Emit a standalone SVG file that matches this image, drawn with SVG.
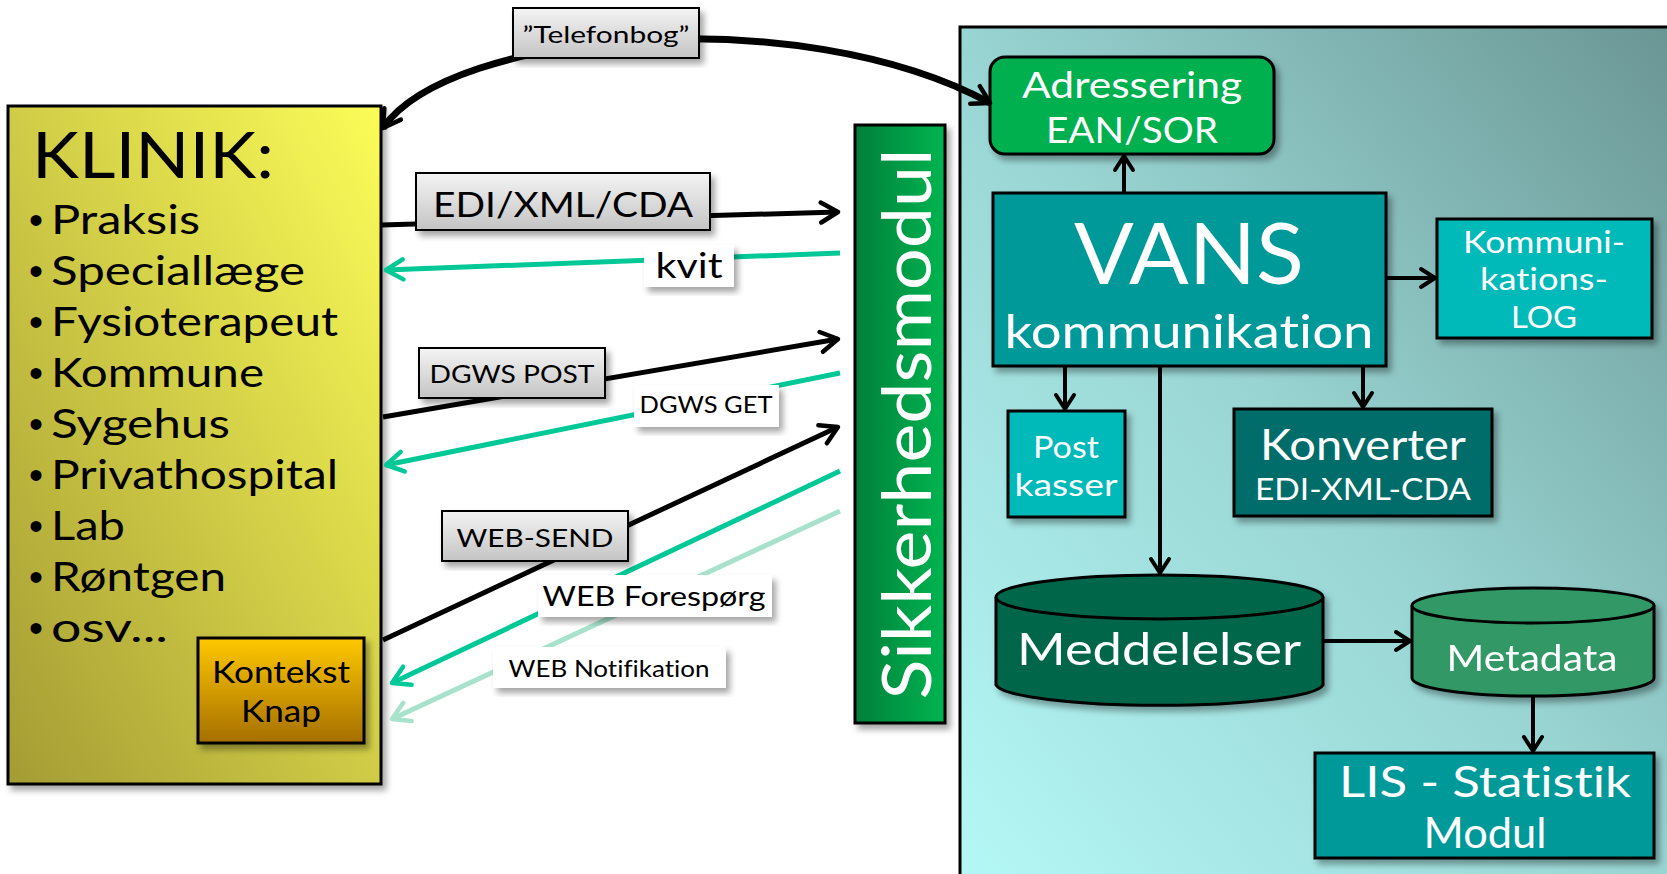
<svg xmlns="http://www.w3.org/2000/svg" width="1667" height="874" viewBox="0 0 1667 874">
<style>
text{font-family:Lato,"Liberation Sans",sans-serif;font-variant-ligatures:none}
.bu{font-family:"Liberation Sans",sans-serif}
.w{fill:#fff}
.k{fill:#000}
.box{stroke:#000;stroke-width:3}
.lbl{stroke:#000;stroke-width:2}
.blk{fill:none;stroke:#000;stroke-width:5}
.grn{fill:none;stroke:#00c896;stroke-width:5}
.lgr{fill:none;stroke:#a8e2cc;stroke-width:5}
.in{fill:none;stroke:#000;stroke-width:4}
</style>
<defs>
<linearGradient id="gY" x1="0" y1="1" x2="1" y2="0"><stop offset="0" stop-color="#a49c34"/><stop offset="1" stop-color="#fcfc58"/></linearGradient>
<linearGradient id="gO" x1="0" y1="0" x2="0" y2="1"><stop offset="0" stop-color="#ffc800"/><stop offset="1" stop-color="#a56f05"/></linearGradient>
<linearGradient id="gG" x1="0" y1="0" x2="1" y2="0"><stop offset="0" stop-color="#007f3a"/><stop offset="1" stop-color="#00b550"/></linearGradient>
<linearGradient id="gP" x1="0" y1="1" x2="1" y2="0"><stop offset="0" stop-color="#b4f8f6"/><stop offset="0.5" stop-color="#98d4d2"/><stop offset="1" stop-color="#6a9694"/></linearGradient>
<linearGradient id="gL" x1="0" y1="0" x2="0" y2="1"><stop offset="0" stop-color="#f4f4f4"/><stop offset="1" stop-color="#c4c4c4"/></linearGradient>
<filter id="sh" x="-10%" y="-10%" width="130%" height="130%"><feDropShadow dx="4" dy="5" stdDeviation="3" flood-color="#000" flood-opacity="0.35"/></filter>
<marker id="aB" markerUnits="userSpaceOnUse" viewBox="0 0 24 26" markerWidth="24" markerHeight="26" refX="20" refY="13" orient="auto-start-reverse"><path d="M3,3 L20,13 L3,23" fill="none" stroke="#000" stroke-width="4.5" stroke-linecap="round" stroke-linejoin="round"/></marker>
<marker id="aG" markerUnits="userSpaceOnUse" viewBox="0 0 24 26" markerWidth="24" markerHeight="26" refX="20" refY="13" orient="auto"><path d="M3,3 L20,13 L3,23" fill="none" stroke="#00c896" stroke-width="4.5" stroke-linecap="round" stroke-linejoin="round"/></marker>
<marker id="aL" markerUnits="userSpaceOnUse" viewBox="0 0 24 26" markerWidth="24" markerHeight="26" refX="20" refY="13" orient="auto"><path d="M3,3 L20,13 L3,23" fill="none" stroke="#a8e2cc" stroke-width="4.5" stroke-linecap="round" stroke-linejoin="round"/></marker>
<marker id="aS" markerUnits="userSpaceOnUse" viewBox="0 0 20 24" markerWidth="20" markerHeight="24" refX="17" refY="12" orient="auto"><path d="M3,3 L17,12 L3,21" fill="none" stroke="#000" stroke-width="4" stroke-linecap="round" stroke-linejoin="round"/></marker>
</defs>
<rect width="1667" height="874" fill="#fff"/>

<g id="panel">
<rect x="960" y="27" width="712" height="852" fill="url(#gP)" stroke="#000" stroke-width="3"/>
</g>

<g id="klinik">
<rect x="8" y="106" width="373" height="678" fill="url(#gY)" class="box" filter="url(#sh)"/>
<text x="32" y="178" font-size="64" textLength="242" lengthAdjust="spacingAndGlyphs">KLINIK:</text>
<g font-size="40">
<text class="bu" x="29" y="234">•</text><text x="51" y="234" textLength="149" lengthAdjust="spacingAndGlyphs">Praksis</text>
<text class="bu" x="29" y="285">•</text><text x="51" y="285" textLength="254" lengthAdjust="spacingAndGlyphs">Speciallæge</text>
<text class="bu" x="29" y="336">•</text><text x="51" y="336" textLength="287" lengthAdjust="spacingAndGlyphs">Fysioterapeut</text>
<text class="bu" x="29" y="387">•</text><text x="51" y="387" textLength="213" lengthAdjust="spacingAndGlyphs">Kommune</text>
<text class="bu" x="29" y="438">•</text><text x="51" y="438" textLength="179" lengthAdjust="spacingAndGlyphs">Sygehus</text>
<text class="bu" x="29" y="489">•</text><text x="51" y="489" textLength="287" lengthAdjust="spacingAndGlyphs">Privathospital</text>
<text class="bu" x="29" y="540">•</text><text x="51" y="540" textLength="74" lengthAdjust="spacingAndGlyphs">Lab</text>
<text class="bu" x="29" y="591">•</text><text x="51" y="591" textLength="175" lengthAdjust="spacingAndGlyphs">Røntgen</text>
<text class="bu" x="29" y="642">•</text><text x="51" y="642" textLength="117" lengthAdjust="spacingAndGlyphs">osv...</text>
</g>
</g>

<g id="kontekst">
<rect x="198" y="638" width="166" height="105" fill="url(#gO)" class="box" filter="url(#sh)"/>
<text x="281" y="683" font-size="30" text-anchor="middle" textLength="138" lengthAdjust="spacingAndGlyphs">Kontekst</text>
<text x="281" y="722" font-size="30" text-anchor="middle" textLength="80" lengthAdjust="spacingAndGlyphs">Knap</text>
</g>

<g id="sikkerhed">
<rect x="855" y="125" width="90" height="598" fill="url(#gG)" class="box" filter="url(#sh)"/>
<text transform="translate(931,424) rotate(-90)" font-size="68" class="w" text-anchor="middle" textLength="551" lengthAdjust="spacingAndGlyphs">Sikkerhedsmodul</text>
</g>

<g id="adressering">
<rect x="990" y="57" width="284" height="97" rx="15" fill="#00b050" class="box" filter="url(#sh)"/>
<text x="1132" y="98" font-size="37" class="w" text-anchor="middle" textLength="220" lengthAdjust="spacingAndGlyphs">Adressering</text>
<text x="1132" y="143" font-size="37" class="w" text-anchor="middle" textLength="172" lengthAdjust="spacingAndGlyphs">EAN/SOR</text>
</g>

<g id="vans">
<rect x="993" y="193" width="393" height="173" fill="#009999" class="box" filter="url(#sh)"/>
<text x="1189" y="284" font-size="86" class="w" text-anchor="middle" textLength="230" lengthAdjust="spacingAndGlyphs">VANS</text>
<text x="1189" y="348" font-size="46" class="w" text-anchor="middle" textLength="369" lengthAdjust="spacingAndGlyphs">kommunikation</text>
</g>

<g id="log">
<rect x="1437" y="219" width="215" height="119" fill="#00baba" class="box" filter="url(#sh)"/>
<text x="1544" y="253" font-size="30" class="w" text-anchor="middle" textLength="162" lengthAdjust="spacingAndGlyphs">Kommuni-</text>
<text x="1544" y="290" font-size="30" class="w" text-anchor="middle" textLength="128" lengthAdjust="spacingAndGlyphs">kations-</text>
<text x="1544" y="328" font-size="30" class="w" text-anchor="middle" textLength="66" lengthAdjust="spacingAndGlyphs">LOG</text>
</g>

<g id="postkasser">
<rect x="1008" y="411" width="117" height="106" fill="#00baba" class="box" filter="url(#sh)"/>
<text x="1066" y="458" font-size="31" class="w" text-anchor="middle" textLength="66" lengthAdjust="spacingAndGlyphs">Post</text>
<text x="1066" y="496" font-size="31" class="w" text-anchor="middle" textLength="103" lengthAdjust="spacingAndGlyphs">kasser</text>
</g>

<g id="konverter">
<rect x="1234" y="409" width="258" height="107" fill="#006d6a" class="box" filter="url(#sh)"/>
<text x="1363" y="460" font-size="42" class="w" text-anchor="middle" textLength="206" lengthAdjust="spacingAndGlyphs">Konverter</text>
<text x="1363" y="500" font-size="30" class="w" text-anchor="middle" textLength="216" lengthAdjust="spacingAndGlyphs">EDI-XML-CDA</text>
</g>

<g id="meddelelser" filter="url(#sh)">
<path d="M996,597 L996,685 A164,22 0 0 0 1323,685 L1323,597" fill="#00664a" class="box"/>
<ellipse cx="1159.5" cy="597" rx="163.5" ry="22" fill="#00664a" class="box"/>
<text x="1159" y="665" font-size="44" class="w" text-anchor="middle" textLength="284" lengthAdjust="spacingAndGlyphs">Meddelelser</text>
</g>

<g id="metadata" filter="url(#sh)">
<path d="M1412,605.5 L1412,678 A121,18 0 0 0 1654,678 L1654,605.5" fill="#339966" class="box"/>
<ellipse cx="1533" cy="605.5" rx="121" ry="17.5" fill="#339966" class="box"/>
<text x="1532" y="671" font-size="36" class="w" text-anchor="middle" textLength="171" lengthAdjust="spacingAndGlyphs">Metadata</text>
</g>

<g id="lis">
<rect x="1315" y="753" width="339" height="105" fill="#009999" class="box" filter="url(#sh)"/>
<text x="1485" y="797" font-size="42" class="w" text-anchor="middle" textLength="292" lengthAdjust="spacingAndGlyphs">LIS - Statistik</text>
<text x="1485" y="848" font-size="42" class="w" text-anchor="middle" textLength="123" lengthAdjust="spacingAndGlyphs">Modul</text>
</g>

<g id="connectors">
<path d="M383,128 C450,30 800,0 990,103" fill="none" stroke="#000" stroke-width="7" marker-start="url(#aB)" marker-end="url(#aB)"/>
<path d="M381,225 L838,212" class="blk" marker-end="url(#aB)"/>
<path d="M840,253 L386,270" class="grn" marker-end="url(#aG)"/>
<path d="M383,417 L838,339" class="blk" marker-end="url(#aB)"/>
<path d="M840,373 L386,465" class="grn" marker-end="url(#aG)"/>
<path d="M383,640 L838,427" class="blk" marker-end="url(#aB)"/>
<path d="M840,471 L392,683" class="grn" marker-end="url(#aG)"/>
<path d="M840,511 L392,719" class="lgr" marker-end="url(#aL)"/>
<path d="M1124,193 L1124,156" class="in" marker-end="url(#aS)"/>
<path d="M1386,278 L1435,278" class="in" marker-end="url(#aS)"/>
<path d="M1065,366 L1065,409" class="in" marker-end="url(#aS)"/>
<path d="M1363,366 L1363,407" class="in" marker-end="url(#aS)"/>
<path d="M1160,366 L1160,573" class="in" marker-end="url(#aS)"/>
<path d="M1323,641 L1410,641" class="in" marker-end="url(#aS)"/>
<path d="M1533,696 L1533,751" class="in" marker-end="url(#aS)"/>
</g>

<g id="label-telefonbog">
<rect x="513" y="8" width="186" height="50" fill="url(#gL)" class="lbl" filter="url(#sh)"/>
<text x="606" y="43" font-size="24" text-anchor="middle" textLength="167" lengthAdjust="spacingAndGlyphs">”Telefonbog”</text>
</g>
<g id="label-edi">
<rect x="416" y="173" width="294" height="57" fill="url(#gL)" class="lbl" filter="url(#sh)"/>
<text x="563" y="217" font-size="35" text-anchor="middle" textLength="260" lengthAdjust="spacingAndGlyphs">EDI/XML/CDA</text>
</g>
<g id="label-kvit">
<rect x="644" y="245" width="90" height="42" fill="#fff" filter="url(#sh)"/>
<text x="689" y="278" font-size="35" text-anchor="middle" textLength="67" lengthAdjust="spacingAndGlyphs">kvit</text>
</g>
<g id="label-dgwspost">
<rect x="419" y="348" width="186" height="50" fill="url(#gL)" class="lbl" filter="url(#sh)"/>
<text x="512" y="383" font-size="25" text-anchor="middle" textLength="165" lengthAdjust="spacingAndGlyphs">DGWS POST</text>
</g>
<g id="label-dgwsget">
<rect x="634" y="385" width="145" height="42" fill="#fff" filter="url(#sh)"/>
<text x="706" y="413" font-size="24" text-anchor="middle" textLength="133" lengthAdjust="spacingAndGlyphs">DGWS GET</text>
</g>
<g id="label-websend">
<rect x="442" y="511" width="186" height="50" fill="url(#gL)" class="lbl" filter="url(#sh)"/>
<text x="535" y="547" font-size="25" text-anchor="middle" textLength="157" lengthAdjust="spacingAndGlyphs">WEB-SEND</text>
</g>
<g id="label-webforesp">
<rect x="538" y="575" width="234" height="42" fill="#fff" filter="url(#sh)"/>
<text x="654" y="606" font-size="27" text-anchor="middle" textLength="223" lengthAdjust="spacingAndGlyphs">WEB Forespørg</text>
</g>
<g id="label-webnotif">
<rect x="493" y="647" width="233" height="41" fill="#fff" filter="url(#sh)"/>
<text x="609" y="677" font-size="23" text-anchor="middle" textLength="201" lengthAdjust="spacingAndGlyphs">WEB Notifikation</text>
</g>
</svg>
